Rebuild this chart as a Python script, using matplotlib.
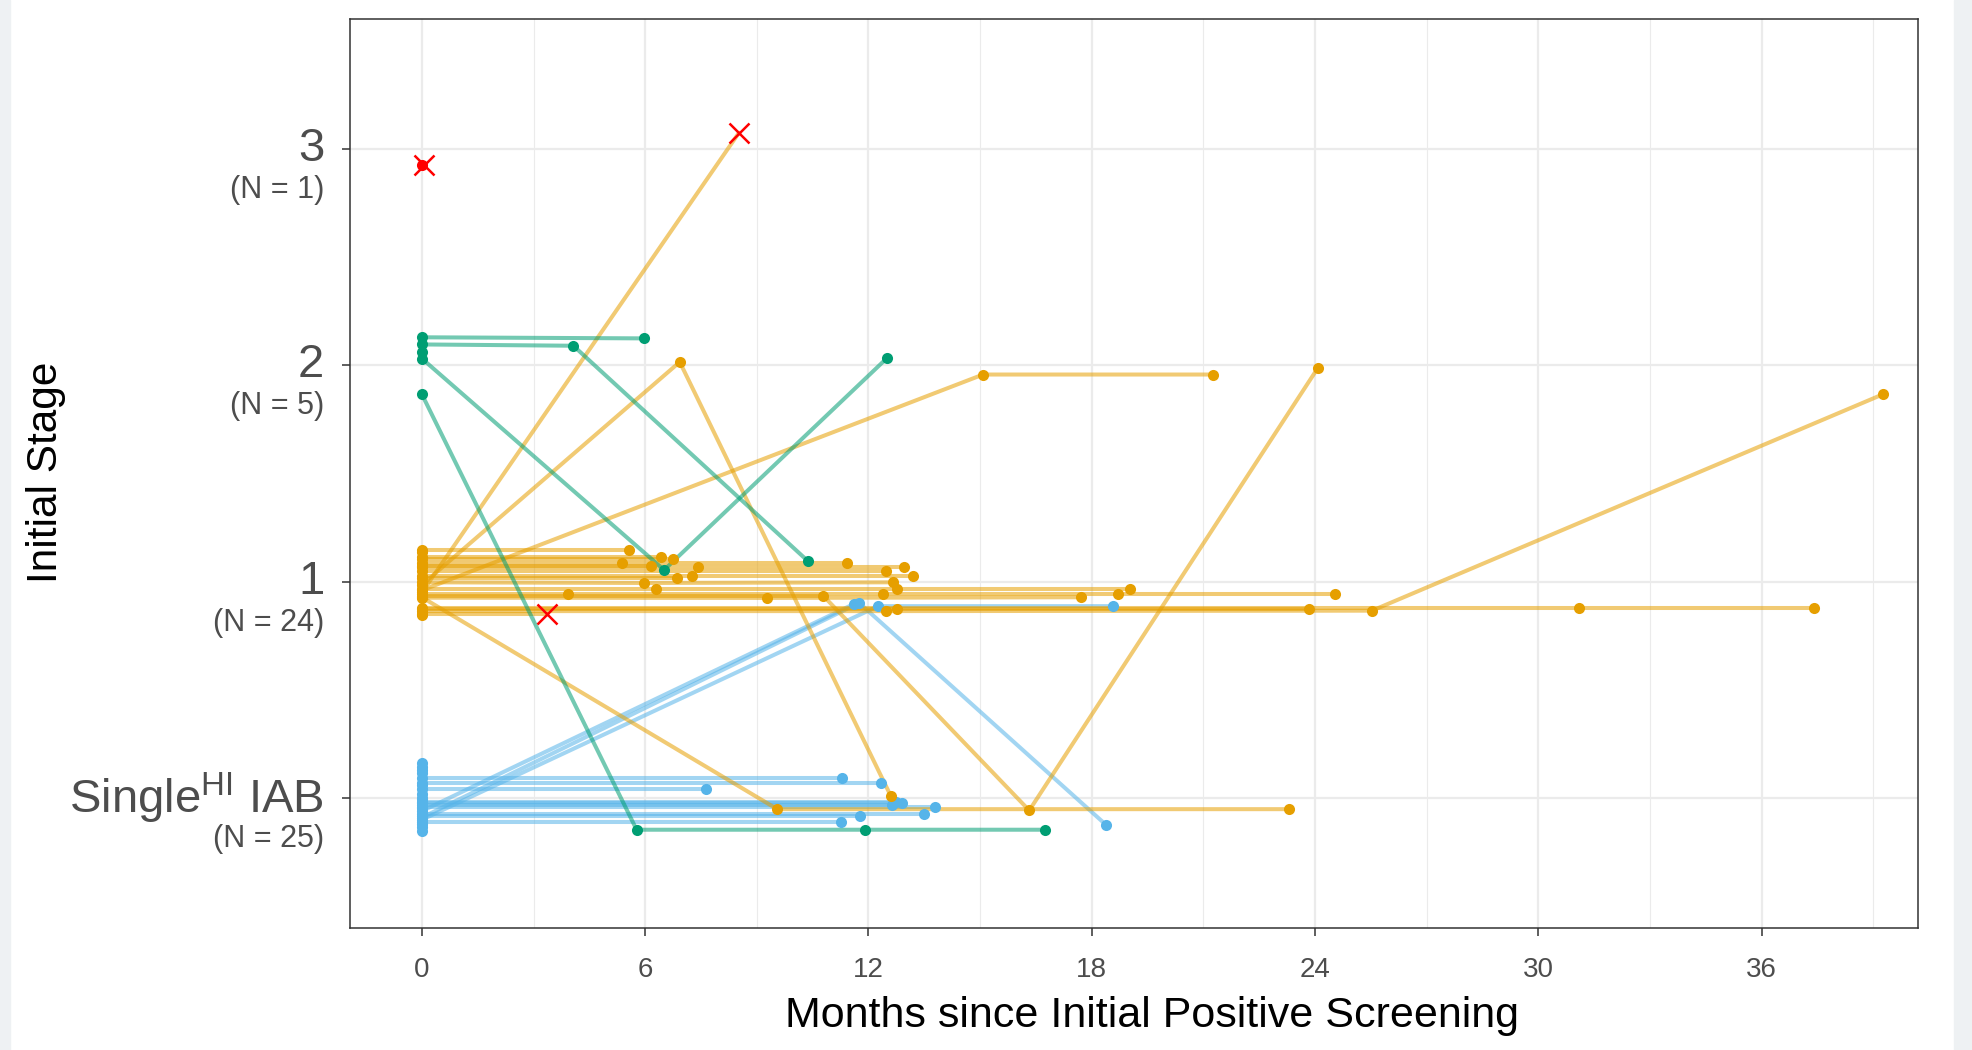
import matplotlib.pyplot as plt
from matplotlib.ticker import MultipleLocator
from matplotlib.patches import Rectangle

plt.rcParams['font.family'] = ['Liberation Sans', 'DejaVu Sans']
plt.rcParams['mathtext.fontset'] = 'custom'
plt.rcParams['mathtext.rm'] = 'Liberation Sans'

ORANGE = '#E69F00'
GREEN = '#009E73'
BLUE = '#56B4E9'
RED = '#FF0000'

# initial stage 3 (single patient)
stage3_months = [[0, 0.07]]
stage3_pos = [[2.925, 2.923]]
stage3_dead = [True]

# initial stage 2
green_months = [
    [0, 5.98],
    [0, 4.07, 10.38],
    [0],
    [0, 6.51, 12.51],
    [0, 5.77, 11.91, 16.75],
]
green_pos = [
    [2.129, 2.124],
    [2.096, 2.09, 1.094],
    [2.063],
    [2.031, 1.054, 2.035],
    [1.866, -0.146, -0.146, -0.146],
]
green_dead = [False, False, False, False, False]

# initial stage 1
orange_months = [
    [0, 8.52],
    [0, 6.93, 12.6],
    [0, 15.08, 21.26],
    [0, 10.79, 16.32, 24.07],
    [0, 9.55, 23.3],
    [0, 12.47, 25.53, 39.25],
    [0, 12.78, 23.83],
    [0, 31.1, 37.4],
    [0, 3.35],
    [0, 5.56],
    [0, 5.37, 11.42],
    [0, 6.43],
    [0, 6.76],
    [0, 6.17],
    [0, 12.47],
    [0, 7.43, 12.96],
    [0, 7.27, 13.21],
    [0, 6.85],
    [0, 5.97, 12.67],
    [0, 6.3, 12.78, 19.03],
    [0, 3.92, 12.38, 18.71, 24.54],
    [0, 9.28, 17.7],
    [0],
    [0],
]
orange_pos = [
    [0.95, 3.074],
    [0.985, 2.015, 0.01],
    [0.96, 1.957, 1.957],
    [0.934, 0.934, -0.057, 1.986],
    [0.928, -0.051, -0.051],
    [0.864, 0.864, 0.866, 1.865],
    [0.874, 0.874, 0.874],
    [0.879, 0.879, 0.879],
    [0.851, 0.851],
    [1.146, 1.146],
    [1.085, 1.085, 1.085],
    [1.112, 1.112],
    [1.104, 1.104],
    [1.074, 1.074],
    [1.048, 1.048],
    [1.066, 1.066, 1.066],
    [1.025, 1.025, 1.025],
    [1.016, 1.016],
    [0.997, 0.994, 0.997],
    [0.966, 0.966, 0.966, 0.966],
    [0.943, 0.943, 0.943, 0.943, 0.943],
    [0.926, 0.925, 0.928],
    [1.135],
    [0.845],
]
orange_dead = [True] + [False] * 7 + [True] + [False] * 15

# initial stage Single-HI IAB
blue_months = [
    [0, 11.3],
    [0, 12.33],
    [0, 7.63],
    [0, 12.64],
    [0, 12.75],
    [0, 12.9],
    [0, 13.79],
    [0, 13.5],
    [0, 11.77],
    [0, 11.27],
    [0, 11.61],
    [0, 11.75, 18.38],
    [0, 12.26, 18.57],
] + [[0]] * 12
blue_pos = [
    [0.095, 0.095],
    [0.072, 0.072],
    [0.042, 0.042],
    [-0.031, -0.031],
    [-0.02, -0.02],
    [-0.024, -0.024],
    [-0.039, -0.039],
    [-0.073, -0.073],
    [-0.082, -0.082],
    [-0.112, -0.112],
    [-0.06, 0.897],
    [-0.09, 0.902, -0.123],
    [-0.1, 0.887, 0.887],
    [0.16], [0.145], [0.13], [0.115], [0.06], [0.02],
    [0.0], [-0.005], [-0.045], [-0.12], [-0.135], [-0.153],
]
blue_dead = [False] * 25

stage_ticks = [0, 1, 2, 3]
stage_names = ['Single$^{\\mathrm{HI}}$ IAB', '1', '2', '3']
stage_counts = [25, 24, 5, 1]

groups = [
    (blue_months, blue_pos, blue_dead, BLUE),
    (orange_months, orange_pos, orange_dead, ORANGE),
    (green_months, green_pos, green_dead, GREEN),
    (stage3_months, stage3_pos, stage3_dead, RED),
]

fig = plt.figure(figsize=(19.72, 10.5), dpi=100)
fig.patches.append(Rectangle((0, 0), 0.005, 1, transform=fig.transFigure,
                             color='#EEF1F3', zorder=0))
fig.patches.append(Rectangle((0.991, 0), 0.009, 1, transform=fig.transFigure,
                             color='#EEF1F3', zorder=0))
ax = fig.add_axes([0.1775, 0.1162, 0.7951, 0.8658])

# lines first, then points
for months, pos, dead, color in groups:
    for m, p in zip(months, pos):
        if len(m) > 1:
            ax.plot(m, p, color=color, lw=2.9, alpha=0.55, solid_capstyle='round', zorder=2)

for months, pos, dead, color in groups:
    for m, p, d in zip(months, pos, dead):
        if d:
            ax.plot(m[:-1], p[:-1], 'o', color=color, ms=8, mew=0, zorder=3)
            ax.plot(m[-1], p[-1], 'x', color=RED, ms=15, mew=1.8, zorder=4)
        else:
            ax.plot(m, p, 'o', color=color, ms=8, mew=0, zorder=3)

ax.set_xlim(-1.93, 40.2)
ax.set_ylim(-0.6, 3.6)
ax.xaxis.set_major_locator(MultipleLocator(6))
ax.xaxis.set_minor_locator(MultipleLocator(3))
ax.set_yticks(stage_ticks)
ax.set_yticklabels([''] * len(stage_ticks))

ax.grid(which='major', color='#EBEBEB', lw=1.6, zorder=0)
ax.grid(which='minor', axis='x', color='#EBEBEB', lw=0.8, zorder=0)
ax.set_axisbelow(True)
ax.tick_params(which='major', length=6, width=1.1, color='#333333',
               labelsize=20, labelcolor='#4D4D4D')
ax.tick_params(axis='x', which='major', pad=15)
ax.tick_params(which='minor', length=0)
for s in ax.spines.values():
    s.set_color('#333333')
    s.set_linewidth(1.1)

ytr = ax.get_yaxis_transform()
for t, name, n in zip(stage_ticks, stage_names, stage_counts):
    ax.text(-0.0165, t, name, transform=ytr, ha='right', va='center',
            fontsize=34, color='#4D4D4D')
    ax.text(-0.0165, t - 0.19, f'(N = {n})', transform=ytr, ha='right',
            va='center', fontsize=22, color='#4D4D4D')

ax.set_xlabel('Months since Initial Positive Screening', fontsize=31, labelpad=4)
ax.xaxis.label.set_horizontalalignment('center')
ax.xaxis.set_label_coords(0.5115, -0.075)
fig.text(0.0235, 0.55, 'Initial Stage', rotation=90, ha='center', va='center',
         fontsize=30.5)

fig.savefig('out.png', dpi=100, facecolor='white')
